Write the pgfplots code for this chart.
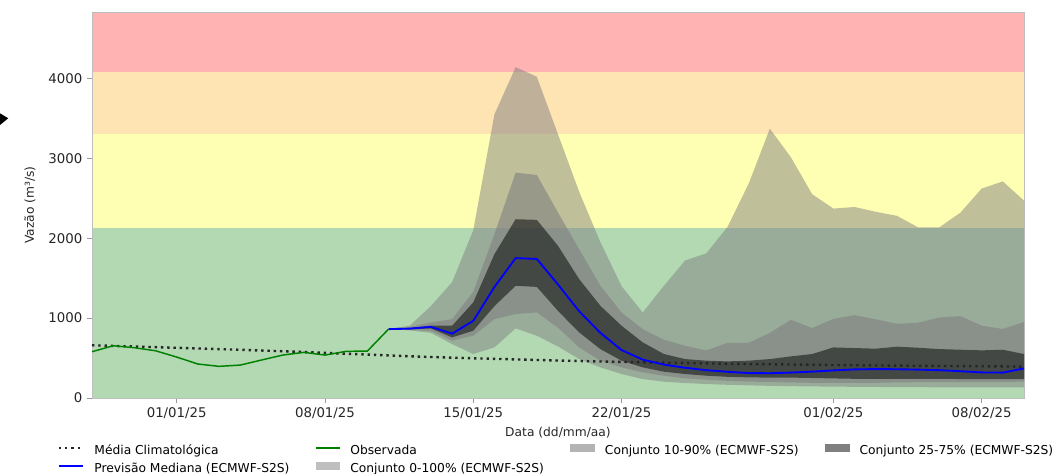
\documentclass[border=0pt]{standalone}
\usepackage{fontspec}
\setmainfont{DejaVu Sans}
\usepackage{pgfplots}
\pgfplotsset{compat=1.18}
\usepackage{pgfplotstable}
\usepgfplotslibrary{fillbetween}

\definecolor{bandred}{RGB}{255,179,179}
\definecolor{bandorange}{RGB}{255,228,179}
\definecolor{bandyellow}{RGB}{255,255,179}
\definecolor{bandgreen}{RGB}{179,217,179}
\definecolor{obsgreen}{RGB}{0,128,0}
\definecolor{spine}{RGB}{190,190,190}
\definecolor{txt}{RGB}{38,38,38}
\definecolor{patchA}{RGB}{191,191,191}
\definecolor{patchB}{RGB}{179,179,179}
\definecolor{patchC}{RGB}{128,128,128}

\pgfplotstableread{
d obs
-4 579
-3 654
-2 629
-1 591
0 512
1 425
2 396
3 412
4 475
5 537
6 571
7 537
8 584
9 587
10 862
}\obs

\pgfplotstableread{
d clim
-4 660
-3 652
-2 644
-1 636
0 628
1 620
2 612
3 603
4 594
5 585
6 575
7 565
8 554
9 543
10 532
11 522
12 513
13 505
14 497
15 490
16 483
17 476
18 469
19 463
20 457
21 452
22 447
23 442
24 437
25 433
26 429
27 425
28 422
29 419
30 416
31 413
32 410
33 407
34 405
35 403
36 401
37 399
38 397
39 395
40 393
}\clim

\pgfplotstableread{
d p0 p10 p25 p50 p75 p90 p100
10 862 862 862 862 862 862 862
11 845 852 860 868 876 890 905
12 815 840 870 890 905 946 1150
13 675 717 758 805 904 987 1450
14 550 779 842 965 1196 1330 2100
15 633 987 1150 1390 1800 2050 3550
16 871 1050 1404 1750 2237 2820 4140
17 779 1071 1390 1740 2229 2790 4020
18 645 880 1090 1420 1904 2321 3300
19 487 633 821 1085 1487 1862 2580
20 383 467 612 815 1154 1404 1950
21 300 383 467 600 904 1071 1400
22 237 321 383 480 696 862 1070
23 204 279 329 418 550 729 1404
24 187 246 300 378 487 654 1720
25 175 229 279 348 467 595 1810
26 165 215 265 328 458 690 2140
27 158 205 258 312 467 690 2680
28 152 200 255 310 487 815 3370
29 148 195 255 318 521 980 3010
30 145 190 250 330 550 875 2550
31 142 188 245 345 633 990 2370
32 140 188 240 358 625 1036 2390
33 138 190 240 362 617 985 2330
34 136 195 240 360 642 928 2280
35 135 198 240 355 629 942 2135
36 134 200 240 348 612 1007 2135
37 133 200 237 335 604 1025 2320
38 133 200 235 320 596 906 2620
39 133 200 235 318 604 863 2710
40 133 205 237 370 550 952 2470
}\ens

\begin{document}
\begin{tikzpicture}
\begin{axis}[
  set layers,
  name=ax, at={(0,0)}, anchor=south west,
  scale only axis, width=699pt, height=289.5pt,
  xmin=-4, xmax=40, ymin=0, ymax=4830,
  xtick={0,7,14,21,31,38},
  xticklabels={01/01/25,08/01/25,15/01/25,22/01/25,01/02/25,08/02/25},
  ytick={0,1000,2000,3000,4000},
  tick align=outside, tick pos=left,
  major tick length=3.75pt,
  tick style={black!40, line width=0.6pt},
  axis line style={spine, line width=0.6pt},
  ticklabel style={font=\fontsize{10}{12}\selectfont, text=txt},
  /pgf/number format/assume math mode=true,
  /pgf/number format/1000 sep={},
  xlabel={Data (dd/mm/aa)},
  ylabel={Vazão (m³/s)},
  label style={font=\fontsize{9.2}{11}\selectfont, text=txt},
  xlabel style={at={(axis description cs:0.5,-0.0907)}, anchor=center},
  ylabel style={at={(axis description cs:-0.0665,0.5)}, anchor=center},
  legend columns=4,
  legend style={at={(0.4972,-0.1595)}, anchor=center, draw=none, fill=none,
    font=\fontsize{9.2}{11}\selectfont,
    nodes={inner sep=0pt, text height=7pt, text depth=2pt},
    row sep=3pt,
    /tikz/every odd column/.append style={column sep=7.5pt},
    /tikz/every even column/.append style={column sep=19.8pt}},
  legend cell align=left,
]
% background bands
\addplot[draw=none, fill=bandred, forget plot, on layer=axis background] coordinates {(-4,4830) (40,4830)} \closedcycle;
\addplot[draw=none, fill=bandorange, forget plot, on layer=axis background] coordinates {(-4,4080) (40,4080)} \closedcycle;
\addplot[draw=none, fill=bandyellow, forget plot, on layer=axis background] coordinates {(-4,3300) (40,3300)} \closedcycle;
\addplot[draw=none, fill=bandgreen, forget plot, on layer=axis background] coordinates {(-4,2130) (40,2130)} \closedcycle;

% ensemble envelopes
\addplot[draw=none, name path=p0, forget plot] table[x=d, y=p0] {\ens};
\addplot[draw=none, name path=p100, forget plot] table[x=d, y=p100] {\ens};
\addplot[draw=none, name path=p10, forget plot] table[x=d, y=p10] {\ens};
\addplot[draw=none, name path=p90, forget plot] table[x=d, y=p90] {\ens};
\addplot[draw=none, name path=p25, forget plot] table[x=d, y=p25] {\ens};
\addplot[draw=none, name path=p75, forget plot] table[x=d, y=p75] {\ens};
\addplot[fill=gray, fill opacity=0.5, draw=none, forget plot] fill between[of=p0 and p100];
\addplot[fill=gray, fill opacity=0.6, draw=none, forget plot] fill between[of=p10 and p90];
\addplot[fill=black, fill opacity=0.5, draw=none, forget plot] fill between[of=p25 and p75];

% lines
\addplot[black!85, line width=1.8pt, dash pattern=on 1.8pt off 2.9pt, forget plot] table[x=d, y=clim] {\clim};
\addplot[obsgreen, line width=1.1pt, forget plot] table[x=d, y=obs] {\obs};
\addplot[blue, line width=1.4pt, forget plot] table[x=d, y=p50] {\ens};

% legend (row-wise order to mimic column-wise legend)
\addlegendimage{legend image code/.code={\draw[draw=black!85, line width=1.8pt, dash pattern=on 1.8pt off 2.9pt] (0pt,2.5pt) -- (18.4pt,2.5pt);}}
\addlegendentry{Média Climatológica}
\addlegendimage{legend image code/.code={\fill[fill={rgb,255:red,0;green,128;blue,0}, draw=none] (0pt,1.85pt) rectangle (18.4pt,3.15pt);}}
\addlegendentry{Observada}
\addlegendimage{legend image code/.code={\fill[fill=patchB, draw=none] (0pt,-0.7pt) rectangle (18.4pt,5.7pt);}}
\addlegendentry{Conjunto 10-90\% (ECMWF-S2S)}
\addlegendimage{legend image code/.code={\fill[fill=patchC, draw=none] (0pt,-0.7pt) rectangle (18.4pt,5.7pt);}}
\addlegendentry{Conjunto 25-75\% (ECMWF-S2S)}
\addlegendimage{legend image code/.code={\draw[draw=blue, line width=1.4pt] (0pt,2.5pt) -- (18.4pt,2.5pt);}}
\addlegendentry{Previsão Mediana (ECMWF-S2S)}
\addlegendimage{legend image code/.code={\fill[fill=patchA, draw=none] (0pt,-0.7pt) rectangle (18.4pt,5.7pt);}}
\addlegendentry{Conjunto 0-100\% (ECMWF-S2S)}
\end{axis}
\fill[black] (-72pt,215.3pt) -- (-62.8pt,209.8pt) -- (-72pt,202.3pt) -- cycle;
\pgfresetboundingbox
\path (-69pt,-57pt) rectangle (729pt,298.5pt);
\end{tikzpicture}
\end{document}
